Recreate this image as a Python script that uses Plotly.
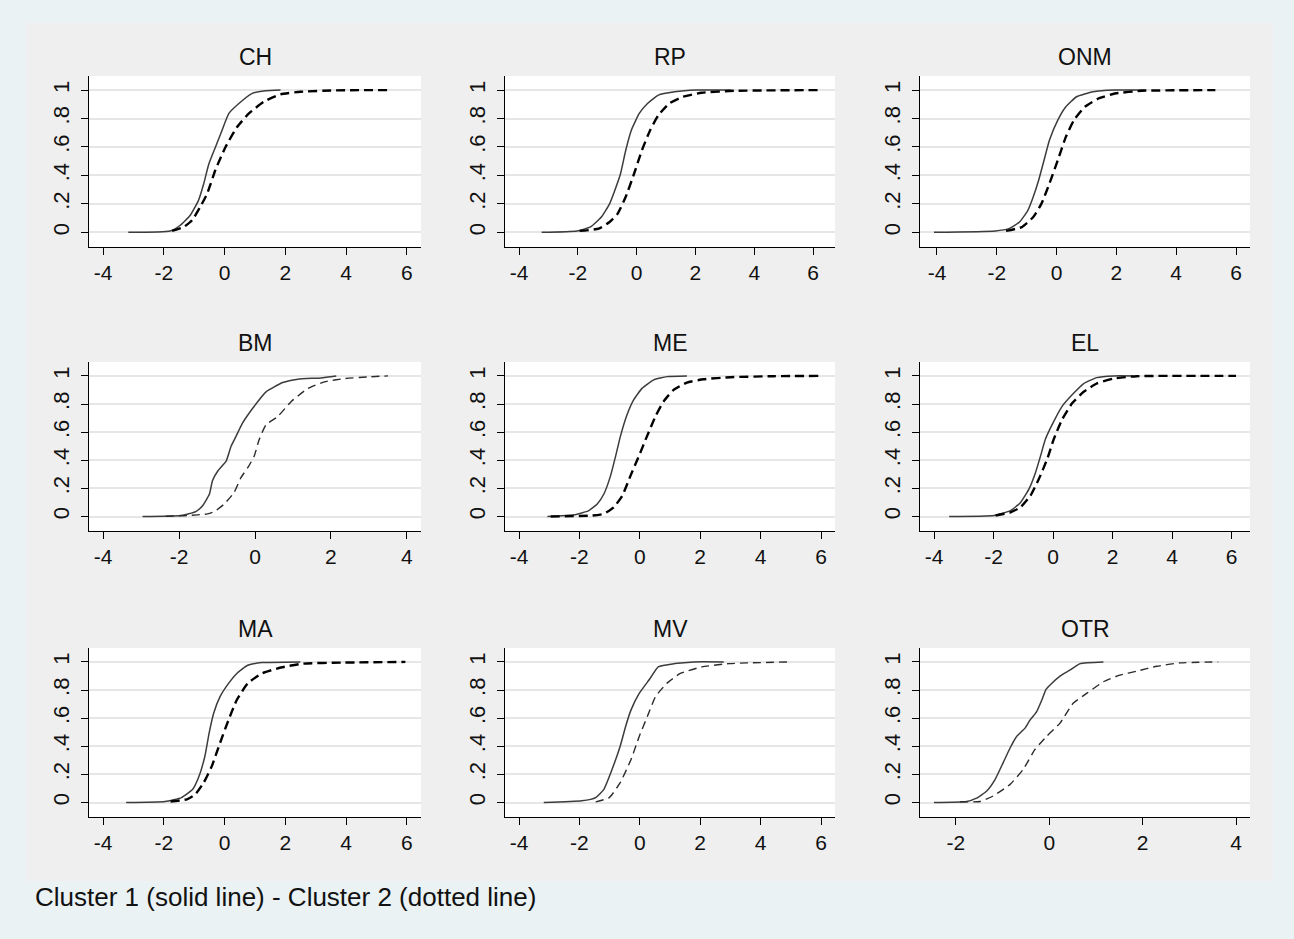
import plotly.graph_objects as go

W, H = 1294, 939

# ---------------- data ----------------
panel_names = ["CH", "RP", "ONM", "BM", "ME", "EL", "MA", "MV", "OTR"]

ch_c1_x = [-3.17, -1.79, -1.46, -1.13, -0.86, -0.69, -0.52, -0.30, -0.08, 0.14, 0.47, 0.91, 1.35, 1.84]
ch_c1_y = [0.0, 0.01, 0.05, 0.12, 0.225, 0.34, 0.48, 0.60, 0.72, 0.836, 0.906, 0.977, 0.995, 1.0]
ch_c2_x = [-1.73, -1.35, -1.07, -0.80, -0.58, -0.30, 0.03, 0.41, 0.80, 1.29, 1.84, 2.50, 3.6, 5.36]
ch_c2_y = [0.01, 0.037, 0.085, 0.18, 0.27, 0.44, 0.60, 0.74, 0.836, 0.918, 0.97, 0.988, 0.998, 1.0]

rp_c1_x = [-3.23, -2.03, -1.57, -1.20, -0.92, -0.74, -0.55, -0.37, -0.18, 0.09, 0.37, 0.74, 1.29, 2.03, 3.2]
rp_c1_y = [0.0, 0.01, 0.038, 0.108, 0.20, 0.296, 0.41, 0.577, 0.718, 0.836, 0.906, 0.965, 0.988, 1.0, 1.0]
rp_c2_x = [-1.94, -1.29, -0.92, -0.65, -0.37, -0.09, 0.18, 0.46, 0.74, 1.11, 1.57, 2.21, 3.32, 6.27]
rp_c2_y = [0.01, 0.026, 0.073, 0.13, 0.25, 0.41, 0.577, 0.718, 0.824, 0.906, 0.953, 0.981, 0.995, 1.0]

onm_c1_x = [-4.1, -2.05, -1.6, -1.24, -0.96, -0.78, -0.6, -0.42, -0.24, 0.04, 0.31, 0.67, 1.22, 1.95, 3.0]
onm_c1_y = [0.0, 0.01, 0.026, 0.073, 0.155, 0.25, 0.366, 0.507, 0.648, 0.789, 0.883, 0.953, 0.988, 1.0, 1.0]
onm_c2_x = [-1.69, -1.15, -0.78, -0.51, -0.24, 0.04, 0.31, 0.58, 0.95, 1.4, 1.95, 2.85, 5.31]
onm_c2_y = [0.01, 0.038, 0.108, 0.20, 0.343, 0.507, 0.671, 0.789, 0.883, 0.941, 0.976, 0.995, 1.0]

bm_c1_x = [-2.96, -1.95, -1.56, -1.38, -1.2, -1.12, -0.98, -0.76, -0.63, -0.5, -0.33, -0.06, 0.29, 0.73, 1.13, 1.74, 2.14]
bm_c1_y = [0.0, 0.007, 0.035, 0.077, 0.16, 0.254, 0.324, 0.394, 0.5, 0.57, 0.664, 0.77, 0.887, 0.953, 0.977, 0.986, 1.0]
bm_c2_x = [-2.35, -1.78, -1.25, -1.07, -0.81, -0.55, -0.37, -0.19, -0.02, 0.11, 0.29, 0.6, 0.95, 1.39, 1.83, 2.36, 2.97, 3.5]
bm_c2_y = [0.002, 0.007, 0.019, 0.035, 0.089, 0.171, 0.277, 0.347, 0.43, 0.547, 0.653, 0.711, 0.817, 0.91, 0.958, 0.981, 0.993, 1.0]

me_c1_x = [-3.06, -2.18, -1.69, -1.41, -1.19, -0.97, -0.80, -0.64, -0.42, -0.20, 0.08, 0.46, 0.9, 1.56]
me_c1_y = [0.0, 0.012, 0.042, 0.089, 0.16, 0.289, 0.43, 0.572, 0.725, 0.831, 0.913, 0.972, 0.995, 1.0]
me_c2_x = [-2.95, -1.57, -1.19, -0.86, -0.58, -0.31, -0.03, 0.24, 0.52, 0.79, 1.12, 1.56, 2.11, 3.0, 4.43, 5.91]
me_c2_y = [0.0, 0.007, 0.019, 0.066, 0.148, 0.289, 0.43, 0.572, 0.713, 0.819, 0.901, 0.953, 0.976, 0.991, 0.998, 1.0]

el_c1_x = [-3.49, -1.98, -1.43, -1.09, -0.81, -0.59, -0.42, -0.26, -0.03, 0.30, 0.69, 1.03, 1.47, 2.03, 2.7]
el_c1_y = [0.0, 0.007, 0.042, 0.10, 0.195, 0.312, 0.43, 0.547, 0.653, 0.782, 0.876, 0.946, 0.988, 1.0, 1.0]
el_c2_x = [-1.93, -1.43, -1.09, -0.76, -0.48, -0.20, 0.02, 0.30, 0.64, 1.03, 1.47, 2.03, 2.81, 6.15]
el_c2_y = [0.007, 0.03, 0.066, 0.148, 0.265, 0.406, 0.547, 0.688, 0.805, 0.887, 0.946, 0.981, 0.998, 1.0]

ma_c1_x = [-3.24, -1.96, -1.42, -1.05, -0.84, -0.65, -0.51, -0.36, -0.15, 0.13, 0.4, 0.76, 1.22, 2.49]
ma_c1_y = [0.0, 0.007, 0.035, 0.094, 0.188, 0.329, 0.494, 0.635, 0.753, 0.847, 0.918, 0.976, 0.995, 1.0]
ma_c2_x = [-1.78, -1.24, -0.96, -0.69, -0.42, -0.15, 0.13, 0.4, 0.76, 1.22, 1.85, 2.58, 3.85, 5.95]
ma_c2_y = [0.007, 0.023, 0.059, 0.141, 0.259, 0.424, 0.588, 0.729, 0.847, 0.918, 0.96, 0.988, 0.995, 1.0]

mv_c1_x = [-3.18, -1.92, -1.46, -1.19, -0.92, -0.65, -0.47, -0.29, -0.02, 0.34, 0.61, 1.16, 1.79, 2.78]
mv_c1_y = [0.0, 0.012, 0.035, 0.094, 0.235, 0.4, 0.541, 0.659, 0.776, 0.882, 0.965, 0.988, 1.0, 1.0]
mv_c2_x = [-1.46, -1.01, -0.65, -0.29, -0.02, 0.25, 0.52, 0.89, 1.34, 2.06, 2.97, 4.95]
mv_c2_y = [0.005, 0.035, 0.141, 0.306, 0.47, 0.612, 0.753, 0.847, 0.918, 0.965, 0.988, 1.0]

otr_c1_x = [-2.47, -1.77, -1.56, -1.34, -1.16, -0.99, -0.84, -0.7, -0.52, -0.41, -0.27, -0.16, -0.07, 0.05, 0.23, 0.44, 0.66, 1.16]
otr_c1_y = [0.0, 0.007, 0.031, 0.082, 0.165, 0.282, 0.388, 0.47, 0.529, 0.588, 0.647, 0.729, 0.805, 0.847, 0.899, 0.941, 0.988, 1.0]
otr_c2_x = [-1.91, -1.49, -1.2, -0.84, -0.56, -0.31, -0.06, 0.23, 0.51, 0.8, 1.16, 1.51, 1.87, 2.3, 2.8, 3.62]
otr_c2_y = [0.005, 0.007, 0.047, 0.129, 0.235, 0.376, 0.47, 0.565, 0.706, 0.776, 0.859, 0.906, 0.934, 0.969, 0.993, 1.0]

xticks_wide = [-4, -2, 0, 2, 4, 6]
xticks_bm = [-4, -2, 0, 2, 4]
xticks_otr = [-2, 0, 2, 4]
yticks_vals = [0, 0.2, 0.4, 0.6, 0.8, 1]
yticks_text = ["0", ".2", ".4", ".6", ".8", "1"]
footnote = "Cluster 1 (solid line) - Cluster 2 (dotted line)"

series = [
    (ch_c1_x, ch_c1_y, ch_c2_x, ch_c2_y, xticks_wide),
    (rp_c1_x, rp_c1_y, rp_c2_x, rp_c2_y, xticks_wide),
    (onm_c1_x, onm_c1_y, onm_c2_x, onm_c2_y, xticks_wide),
    (bm_c1_x, bm_c1_y, bm_c2_x, bm_c2_y, xticks_bm),
    (me_c1_x, me_c1_y, me_c2_x, me_c2_y, xticks_wide),
    (el_c1_x, el_c1_y, el_c2_x, el_c2_y, xticks_wide),
    (ma_c1_x, ma_c1_y, ma_c2_x, ma_c2_y, xticks_wide),
    (mv_c1_x, mv_c1_y, mv_c2_x, mv_c2_y, xticks_wide),
    (otr_c1_x, otr_c1_y, otr_c2_x, otr_c2_y, xticks_otr),
]

# ---------------- styling / layout ----------------
FONT = "Liberation Sans, Arial, Helvetica, sans-serif"
OUTER = "#EAF2F3"
INNER = "#EFEFEF"
col_px = [(89, 421), (505, 835), (920, 1250)]
row_px = [(76, 247), (362, 531), (648, 817)]
thin_dash = {"BM", "MV", "OTR"}

fig = go.Figure()
layout_axes = {}
annotations = []

for i, name in enumerate(panel_names):
    r, c = divmod(i, 3)
    x0, x1 = col_px[c]
    y0, y1 = row_px[r]
    c1x, c1y, c2x, c2y, xt = series[i]
    sfx = "" if i == 0 else str(i + 1)
    xa, ya = "x" + sfx, "y" + sfx

    if name in thin_dash:
        dash_line = dict(color="#2b2b2b", width=1.4, dash="8px,5px")
    else:
        dash_line = dict(color="#000000", width=2.4, dash="9px,5px")

    fig.add_trace(go.Scatter(x=c1x, y=c1y, mode="lines", xaxis=xa, yaxis=ya,
                             line=dict(color="#3c3c3c", width=1.5, shape="spline", smoothing=0.45),
                             showlegend=False, hoverinfo="skip"))
    fig.add_trace(go.Scatter(x=c2x, y=c2y, mode="lines", xaxis=xa, yaxis=ya,
                             line=dict(dash_line, shape="spline", smoothing=0.45),
                             showlegend=False, hoverinfo="skip"))

    lo = min(min(c1x), min(c2x), xt[0])
    hi = max(max(c1x), max(c2x), xt[-1])
    pad = (hi - lo) * 14.0 / 302.0

    layout_axes["xaxis" + sfx] = dict(
        domain=[x0 / W, x1 / W], anchor=ya, range=[lo - pad, hi + pad],
        tickvals=xt, ticktext=[str(v) for v in xt],
        showgrid=False, zeroline=False, showline=True, linecolor="#000", linewidth=1,
        ticks="outside", ticklen=7, tickcolor="#000", tickwidth=1,
        tickfont=dict(family=FONT, size=21, color="#111"), fixedrange=True,
    )
    layout_axes["yaxis" + sfx] = dict(
        domain=[1 - y1 / H, 1 - y0 / H], anchor=xa, range=[-0.103, 1.099],
        tickvals=yticks_vals, ticktext=yticks_text, tickangle=-90,
        showgrid=True, gridcolor="#E6E6E6", gridwidth=1.5, zeroline=False,
        showline=True, linecolor="#000", linewidth=1,
        ticks="outside", ticklen=7, tickcolor="#000", tickwidth=1,
        ticklabelstandoff=3,
        tickfont=dict(family=FONT, size=22, color="#111"), fixedrange=True,
    )
    annotations.append(dict(
        text=name, xref="paper", yref="paper", x=(x0 + x1) / 2 / W, y=1 - (y0 - 19) / H,
        xanchor="center", yanchor="middle", showarrow=False,
        font=dict(family=FONT, size=23, color="#111"),
    ))

annotations.append(dict(
    text=footnote, xref="paper", yref="paper", x=33 / W, y=1 - 897 / H,
    xanchor="left", yanchor="middle", showarrow=False,
    font=dict(family=FONT, size=26, color="#111"),
))

def rect(x0, y0, x1, y1, color):
    return dict(type="rect", xref="paper", yref="paper", layer="below",
                x0=x0 / W, x1=x1 / W, y0=1 - y1 / H, y1=1 - y0 / H,
                fillcolor=color, line=dict(width=0))

shapes = [
    rect(0, 0, W, 23, OUTER),
    rect(0, 881, W, H, OUTER),
    rect(0, 0, 26, H, OUTER),
    rect(1273, 0, W, H, OUTER),
]

fig.update_layout(
    width=W, height=H, margin=dict(l=0, r=0, t=0, b=0),
    paper_bgcolor=INNER, plot_bgcolor="#FFFFFF",
    annotations=annotations, shapes=shapes,
    **layout_axes,
)

fig.write_html("out.html", config={"displayModeBar": False},
               post_script="document.body.style.margin='0';document.body.style.padding='0';")
